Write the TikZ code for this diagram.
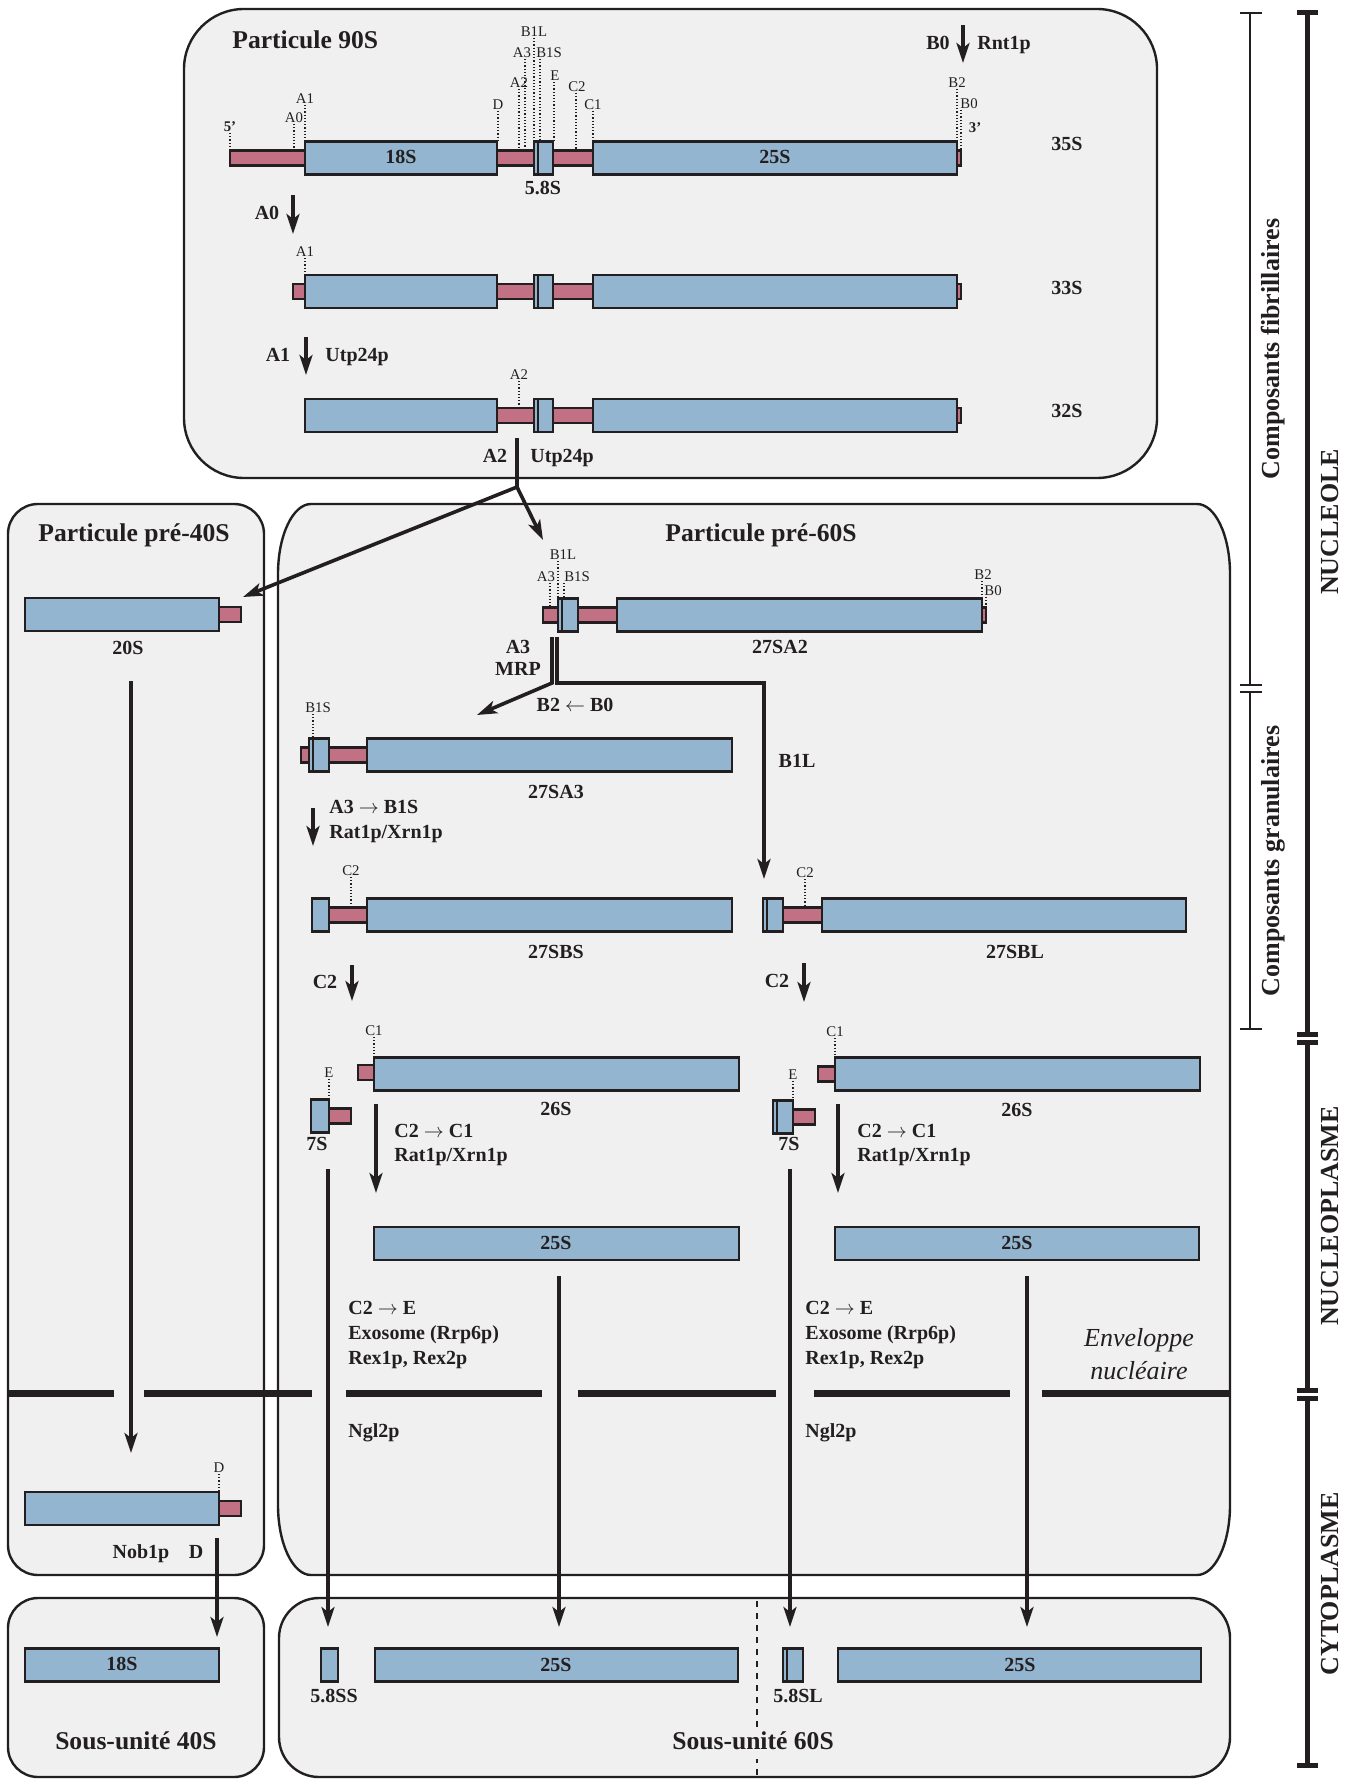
\documentclass[tikz,border=0pt]{standalone}
\usepackage{fontspec}
\setmainfont{Liberation Serif}
\usetikzlibrary{arrows.meta}
\definecolor{inkc}{HTML}{231F20}
\definecolor{panelc}{HTML}{F0F0F0}
\definecolor{rnac}{HTML}{93B5CF}
\definecolor{spacerc}{HTML}{C27084}
\tikzset{
    panel/.style={draw=inkc, fill=panelc, line width=1.2pt},
    rrna/.style={draw=inkc, fill=rnac, line width=1.2pt},
    spacer/.style={draw=inkc, fill=spacerc, line width=1.2pt},
    site/.style={draw=inkc, densely dotted, line width=0.6pt},
    sitelbl/.style={inner sep=0pt, text=inkc, font=\fontsize{7.4}{8}\selectfont},
    lbl/.style={inner sep=0pt, text=inkc, text height=7pt, text depth=2pt, font=\bfseries\fontsize{10}{12}\selectfont},
    ttl/.style={inner sep=0pt, text=inkc, text height=9pt, text depth=3pt, font=\bfseries\fontsize{12.8}{15}\selectfont},
    side/.style={inner sep=0pt, text=inkc, rotate=90, font=\bfseries\fontsize{13}{15}\selectfont},
    cut/.style={draw=inkc, line width=1.8pt, -{Stealth[length=10pt,width=6.5pt,inset=2.5pt]}},
    split/.style={draw=inkc, line width=1.8pt},
    envl/.style={draw=inkc, line width=3.5pt},
}
\newcommand{\spacerbar}[3]{\draw[spacer] (#1,#2-7.5) rectangle (#3,#2+7.5);}
\newcommand{\rnabar}[3]{\draw[rrna] (#1,#2-16.5) rectangle (#3,#2+16.5);}
\newcommand{\rnabarL}[3]{\rnabar{#1}{#2}{#3}\draw[rrna] (#1,#2-16.5) rectangle (#1+4,#2+16.5);}
% name, x of cut, x of label, y of label, y of bar, text
\newcommand{\cutsite}[6]{\draw[site] (#2,#4+6) -- (#2,#5); \node[sitelbl] (#1) at (#3,#4) {#6};}

\begin{document}
\begin{tikzpicture}[x=0.5pt, y=-0.5pt]
\useasboundingbox (0,0) rectangle (1359,1780);
\fill[white] (0,0) rectangle (1359,1780);

%compartments
\draw[panel, rounded corners=30] (184,9) rectangle (1157,478);
\draw[panel, rounded corners=15] (8,504) rectangle (264,1575);
\draw[panel] (311,504) -- (1197,504) .. controls (1215,504) and (1230,535) .. (1230,574) -- (1230,1505)
    .. controls (1230,1544) and (1215,1575) .. (1197,1575) -- (311,1575)
    .. controls (293,1575) and (278,1544) .. (278,1505) -- (278,574)
    .. controls (278,535) and (293,504) .. (311,504) -- cycle;
\draw[panel, rounded corners=15] (8,1598) rectangle (264,1777);
\draw[panel, rounded corners=20] (279,1598) rectangle (1230,1777);
\draw[inkc, dashed, line width=0.6pt] (757,1601) -- (757,1777);

%nuclear envelope
\foreach \xa/\xb in {8/114, 144/312, 346/542, 578/776, 814/1010, 1042/1230}
    \draw[envl] (\xa,1393) -- (\xb,1393);
\node[inner sep=0pt, text=inkc, font=\itshape\fontsize{13}{15}\selectfont] (env1) at (1139,1340) {Enveloppe};
\node[inner sep=0pt, text=inkc, font=\itshape\fontsize{13}{15}\selectfont] (env2) at (1139,1371) {nucléaire};

%titles
\node[ttl, anchor=west] (t90) at (232,43) {Particule 90S};
\node[ttl] (t40) at (134,535) {Particule pré-40S};
\node[ttl] (t60) at (761,535) {Particule pré-60S};
\node[ttl] (s40) at (136,1743) {Sous-unité 40S};
\node[ttl, fill=panelc, inner sep=2pt] (s60) at (753,1743) {Sous-unité 60S};

%35S
\spacerbar{230}{158}{961}
\rnabar{305}{158}{497}
\rnabarL{534}{158}{553}
\rnabar{593}{158}{957}
\node[lbl] (r18) at (401,159) {18S};
\node[lbl] (r25) at (775,159) {25S};
\node[lbl] (r58) at (543,190) {5.8S};
\node[lbl] (n35) at (1067,146) {35S};
\cutsite{p5}{230}{230}{127}{151}{\bfseries 5'}
\cutsite{pA0}{294}{294}{118}{151}{A0}
\cutsite{pA1}{305}{305}{99}{142}{A1}
\cutsite{pD}{498}{498}{105}{142}{D}
\cutsite{pA2}{519}{519}{83}{151}{A2}
\cutsite{pA3}{525}{522}{53}{151}{A3}
\cutsite{pB1L}{534}{534}{32}{142}{B1L}
\cutsite{pB1S}{540}{549}{53}{142}{B1S}
\cutsite{pE}{554}{555}{76}{142}{E}
\cutsite{pC2}{576}{577}{87}{151}{C2}
\cutsite{pC1}{593}{593}{105}{142}{C1}
\cutsite{pB2}{957}{957}{83}{142}{B2}
\cutsite{pB0}{961}{969}{104}{151}{B0}
\node[sitelbl, font=\bfseries\fontsize{7.4}{8}\selectfont] (p3) at (975,128) {3'};
\coordinate (b0s) at (963,25);
\coordinate (b0e) at (963,63);
\draw[cut] (b0s) -- (b0e);
\node[lbl, anchor=east] (cB0) at (950,45) {B0};
\node[lbl, anchor=west] (eRnt) at (977,45) {Rnt1p};

%33S
\coordinate (a0s) at (293,195);
\coordinate (a0e) at (293,234);
\draw[cut] (a0s) -- (a0e);
\node[lbl] (cA0) at (267,215) {A0};
\spacerbar{293}{291.5}{961}
\rnabar{305}{291.5}{497}
\rnabarL{534}{291.5}{553}
\rnabar{593}{291.5}{957}
\cutsite{qA1}{305}{305}{252}{275}{A1}
\node[lbl] (n33) at (1067,290) {33S};

%32S
\coordinate (a1s) at (306,337);
\coordinate (a1e) at (306,375);
\draw[cut] (a1s) -- (a1e);
\node[lbl] (cA1) at (278,357) {A1};
\node[lbl, anchor=west] (eA1) at (325,357) {Utp24p};
\spacerbar{497}{415.5}{961}
\rnabar{305}{415.5}{497}
\rnabarL{534}{415.5}{553}
\rnabar{593}{415.5}{957}
\cutsite{uA2}{519}{519}{375}{408}{A2}
\node[lbl] (n32) at (1067,413) {32S};

%A2 cleavage
\coordinate (a2s) at (517,438);
\coordinate (a2m) at (517,487);
\coordinate (to20) at (243,597);
\coordinate (to27) at (543,540);
\draw[split] (a2s) -- (a2m);
\draw[cut] (a2m) -- (to20);
\draw[cut] (a2m) -- (to27);
\node[lbl] (cA2) at (495,458) {A2};
\node[lbl, anchor=west] (eA2) at (530,458) {Utp24p};

%pre-40S
\spacerbar{219}{614.5}{241}
\rnabar{25}{614.5}{219}
\node[lbl] (n20) at (128,649) {20S};
\coordinate (d20s) at (131,681);
\coordinate (d20e) at (131,1453);
\draw[cut] (d20s) -- (d20e);
\spacerbar{219}{1508.5}{241}
\rnabar{25}{1508.5}{219}
\cutsite{dD}{219}{219}{1468}{1492}{D}
\node[lbl] (eNob) at (141,1553) {Nob1p};
\node[lbl] (cD) at (196,1553) {D};
\coordinate (dDs) at (217,1538);
\coordinate (dDe) at (217,1637);
\draw[cut] (dDs) -- (dDe);

%27SA2
\spacerbar{543}{615}{986}
\rnabarL{558}{615}{578}
\rnabar{617}{615}{982}
\cutsite{vA3}{550}{546}{577}{607}{A3}
\cutsite{vB1L}{558}{563}{555}{598}{B1L}
\cutsite{vB1S}{564}{577}{577}{598}{B1S}
\cutsite{vB2}{982}{983}{575}{598}{B2}
\cutsite{vB0}{986}{993}{591}{607}{B0}
\node[lbl] (n27a2) at (780,648) {27SA2};
\coordinate (sa) at (552,637);
\coordinate (sam) at (552,683);
\coordinate (sae) at (477,715);
\coordinate (sb) at (557,637);
\coordinate (sbm) at (557,683);
\coordinate (sbc) at (764,683);
\coordinate (sbe) at (764,879);
\draw[cut] (sa) -- (sam) -- (sae);
\draw[cut] (sb) -- (sbm) -- (sbc) -- (sbe);
\node[lbl] (cA3) at (518,648) {A3};
\node[lbl] (eMRP) at (518,670) {MRP};
\node[lbl] (cB2) at (575,706) {B2 $\leftarrow$ B0};
\node[lbl] (cB1L) at (797,762) {B1L};

%27SA3
\spacerbar{301}{755}{367}
\rnabarL{309}{755}{329}
\rnabar{367}{755}{732}
\cutsite{wB1S}{313}{318}{708}{738}{B1S}
\node[lbl] (n27a3) at (556,793) {27SA3};
\coordinate (a3s) at (313,808);
\coordinate (a3e) at (313,846);
\draw[cut] (a3s) -- (a3e);
\node[lbl, anchor=west] (cA3B) at (329,808) {A3 $\rightarrow$ B1S};
\node[lbl, anchor=west] (eA3B) at (329,833) {Rat1p/Xrn1p};

%27SBS and 27SBL
\spacerbar{329}{915}{367}
\rnabar{312}{915}{329}
\rnabar{367}{915}{732}
\cutsite{xC2}{351}{351}{871}{907}{C2}
\node[lbl] (n27bs) at (556,953) {27SBS};
\spacerbar{783}{915}{822}
\rnabarL{763}{915}{783}
\rnabar{822}{915}{1186}
\cutsite{yC2}{805}{805}{873}{907}{C2}
\node[lbl] (n27bl) at (1015,953) {27SBL};

%C2 cleavage
\coordinate (c2ls) at (352,965);
\coordinate (c2le) at (352,1001);
\coordinate (c2rs) at (804,963);
\coordinate (c2re) at (804,1002);
\draw[cut] (c2ls) -- (c2le);
\draw[cut] (c2rs) -- (c2re);
\node[lbl] (cC2l) at (325,983) {C2};
\node[lbl] (cC2r) at (777,982) {C2};

%26S and 7S
\spacerbar{358}{1072.5}{374}
\rnabar{374}{1074}{739}
\cutsite{lC1}{374}{374}{1031}{1057}{C1}
\node[lbl] (n26l) at (556,1110) {26S};
\spacerbar{329}{1116}{351}
\rnabar{311}{1116}{329}
\cutsite{lE}{329}{329}{1073}{1099}{E}
\node[lbl] (n7l) at (317,1145) {7S};
\spacerbar{818}{1074}{835}
\rnabar{835}{1074}{1200}
\cutsite{rC1}{835}{835}{1032}{1057}{C1}
\node[lbl] (n26r) at (1017,1111) {26S};
\spacerbar{793}{1117}{815}
\rnabarL{773}{1117}{793}
\cutsite{rE}{793}{793}{1075}{1101}{E}
\node[lbl] (n7r) at (789,1145) {7S};

%C2 -> C1
\coordinate (c1ls) at (376,1104);
\coordinate (c1le) at (376,1193);
\coordinate (c1rs) at (838,1104);
\coordinate (c1re) at (838,1193);
\draw[cut] (c1ls) -- (c1le);
\draw[cut] (c1rs) -- (c1re);
\node[lbl, anchor=west] (cC1l) at (394,1132) {C2 $\rightarrow$ C1};
\node[lbl, anchor=west] (eC1l) at (394,1156) {Rat1p/Xrn1p};
\node[lbl, anchor=west] (cC1r) at (857,1132) {C2 $\rightarrow$ C1};
\node[lbl, anchor=west] (eC1r) at (857,1156) {Rat1p/Xrn1p};

%25S
\rnabar{374}{1243.5}{739}
\node[lbl] (n25l) at (556,1244) {25S};
\rnabar{835}{1243.5}{1199}
\node[lbl] (n25r) at (1017,1244) {25S};

%towards the cytoplasm
\coordinate (m7ls) at (328,1169);
\coordinate (m7le) at (328,1627);
\coordinate (m25ls) at (559,1276);
\coordinate (m25le) at (559,1627);
\coordinate (m7rs) at (790,1169);
\coordinate (m7re) at (790,1627);
\coordinate (m25rs) at (1027,1276);
\coordinate (m25re) at (1027,1627);
\draw[cut] (m7ls) -- (m7le);
\draw[cut] (m25ls) -- (m25le);
\draw[cut] (m7rs) -- (m7re);
\draw[cut] (m25rs) -- (m25re);
\node[lbl, anchor=west] (cEl) at (348,1309) {C2 $\rightarrow$ E};
\node[lbl, anchor=west] (eEl1) at (348,1334) {Exosome (Rrp6p)};
\node[lbl, anchor=west] (eEl2) at (348,1359) {Rex1p, Rex2p};
\node[lbl, anchor=west] (eNl) at (348,1432) {Ngl2p};
\node[lbl, anchor=west] (cEr) at (805,1309) {C2 $\rightarrow$ E};
\node[lbl, anchor=west] (eEr1) at (805,1334) {Exosome (Rrp6p)};
\node[lbl, anchor=west] (eEr2) at (805,1359) {Rex1p, Rex2p};
\node[lbl, anchor=west] (eNr) at (805,1432) {Ngl2p};

%mature subunits
\rnabar{25}{1665}{219}
\node[lbl] (f18) at (122,1665) {18S};
\rnabar{321}{1665}{338}
\node[lbl] (f58s) at (334,1697) {5.8SS};
\rnabar{375}{1665}{738}
\node[lbl] (f25l) at (556,1666) {25S};
\rnabarL{783}{1665}{803}
\node[lbl] (f58l) at (798,1697) {5.8SL};
\rnabar{838}{1665}{1201}
\node[lbl] (f25r) at (1020,1666) {25S};

%side scales
\draw[inkc, line width=0.8pt] (1240,13) -- (1262,13) (1250,13) -- (1250,685) (1240,685) -- (1262,685);
\draw[inkc, line width=0.8pt] (1240,692) -- (1262,692) (1250,692) -- (1250,1029) (1240,1029) -- (1262,1029);
\draw[inkc, line width=2.5pt] (1297,13) -- (1318,13) (1307,13) -- (1307,1034) (1297,1034) -- (1318,1034);
\draw[inkc, line width=2.5pt] (1297,1042) -- (1318,1042) (1307,1042) -- (1307,1390) (1297,1390) -- (1318,1390);
\draw[inkc, line width=2.5pt] (1297,1398) -- (1318,1398) (1307,1398) -- (1307,1765) (1297,1765) -- (1318,1765);
\node[side] (zfib) at (1273,349) {Composants fibrillaires};
\node[side] (zgra) at (1273,861) {Composants granulaires};
\node[side] (znuc) at (1330,522) {NUCLEOLE};
\node[side] (znpl) at (1330,1216) {NUCLEOPLASME};
\node[side] (zcyt) at (1330,1584) {CYTOPLASME};
\end{tikzpicture}
\end{document}
